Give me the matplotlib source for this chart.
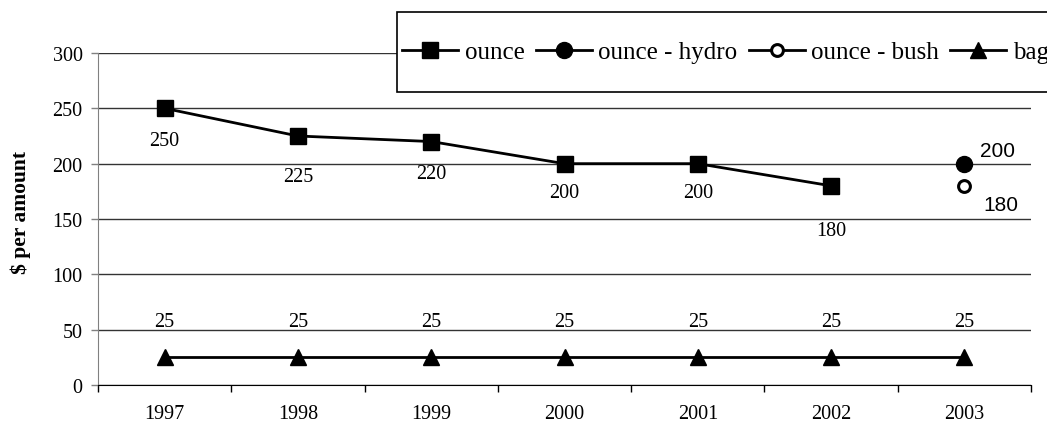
import numpy as np
import matplotlib.pyplot as plt
from matplotlib.patches import Rectangle

# price data by year
years = ["1997", "1998", "1999", "2000", "2001", "2002", "2003"]
ounce = [250, 225, 220, 200, 200, 180, np.nan]
ounce_hydro = [np.nan] * 6 + [200]
ounce_bush = [np.nan] * 6 + [180]
bag = [25, 25, 25, 25, 25, 25, 25]

# how far below each ounce point its label sits (points)
ounce_label_drop = [23, 29.5, 23, 21, 21, 32.5]

plt.rcParams["font.family"] = ["Liberation Serif", "DejaVu Serif"]

fig = plt.figure(figsize=(10.47, 4.27), dpi=100)
ax = fig.add_axes([98 / 1047, 1 - 386 / 427, 933 / 1047, 332 / 427])

x = np.arange(len(years))

ax.plot(x, ounce, color="black", lw=2, marker="s", ms=11.5, label="ounce", zorder=4)
ax.plot(x, ounce_hydro, color="black", lw=2, marker="o", ms=11.5, label="ounce - hydro", zorder=4)
ax.plot(x, ounce_bush, color="black", lw=2, marker="o", ms=8.5, mfc="white", mew=2.2,
        label="ounce - bush", zorder=4)
ax.plot(x, bag, color="black", lw=2, marker="^", ms=11.5, label="bag", zorder=4)

# value labels
for xi, v, d in zip(x, ounce, ounce_label_drop):
    if not np.isnan(v):
        ax.annotate(f"{v:g}", (xi, v), xytext=(0, -d), textcoords="offset points",
                    ha="center", va="center", fontsize=14.5)
for xi, v in zip(x, bag):
    ax.annotate(f"{v:g}", (xi, v), xytext=(0, 25.5), textcoords="offset points",
                ha="center", va="center", fontsize=14.5)
ax.annotate(f"{ounce_hydro[6]:g}", (6, ounce_hydro[6]), xytext=(11.5, 9.5),
            textcoords="offset points", ha="left", va="center",
            fontsize=15, family="Liberation Sans")
ax.annotate(f"{ounce_bush[6]:g}", (6, ounce_bush[6]), xytext=(13.5, -13.5),
            textcoords="offset points", ha="left", va="center",
            fontsize=15, family="Liberation Sans")

ax.set_xlim(-0.5, len(years) - 0.5)
ax.set_ylim(0, 300)
ax.set_yticks(np.arange(0, 301, 50))
ax.set_xticks(x)
ax.set_xticklabels(years)
ax.set_xticks(np.arange(-0.5, len(years), 1), minor=True)
ax.tick_params(axis="x", which="major", length=0, pad=14, labelsize=14.5)
ax.tick_params(axis="x", which="minor", length=5, width=1, direction="out", color="black")
ax.tick_params(axis="y", length=5, width=1, color="#808080", pad=6, labelsize=14.5)

ax.grid(axis="y", color="#333333", lw=1, zorder=1)
ax.set_axisbelow(True)
for side in ("top", "right"):
    ax.spines[side].set_visible(False)
ax.spines["left"].set_color("#808080")
ax.spines["bottom"].set_color("black")

ax.set_ylabel("$ per amount", fontsize=15.5, fontweight="bold")
ax.yaxis.set_label_coords(-0.072, 0.524)

# legend box running off the right edge
fig.patches.append(Rectangle((397 / 1047, 1 - 93 / 427), 700 / 1047, 80 / 427,
                             transform=fig.transFigure, facecolor="white",
                             edgecolor="black", lw=1.2, zorder=3))
handles, labels = ax.get_legend_handles_labels()
fig.legend(handles, labels, loc="center left", bbox_to_anchor=(402 / 1047, 1 - 53 / 427),
           ncol=4, frameon=False, fontsize=18, borderpad=0, borderaxespad=0,
           handlelength=2.25, handletextpad=0.25, columnspacing=0.45)

fig.savefig("out.png", dpi=100)
